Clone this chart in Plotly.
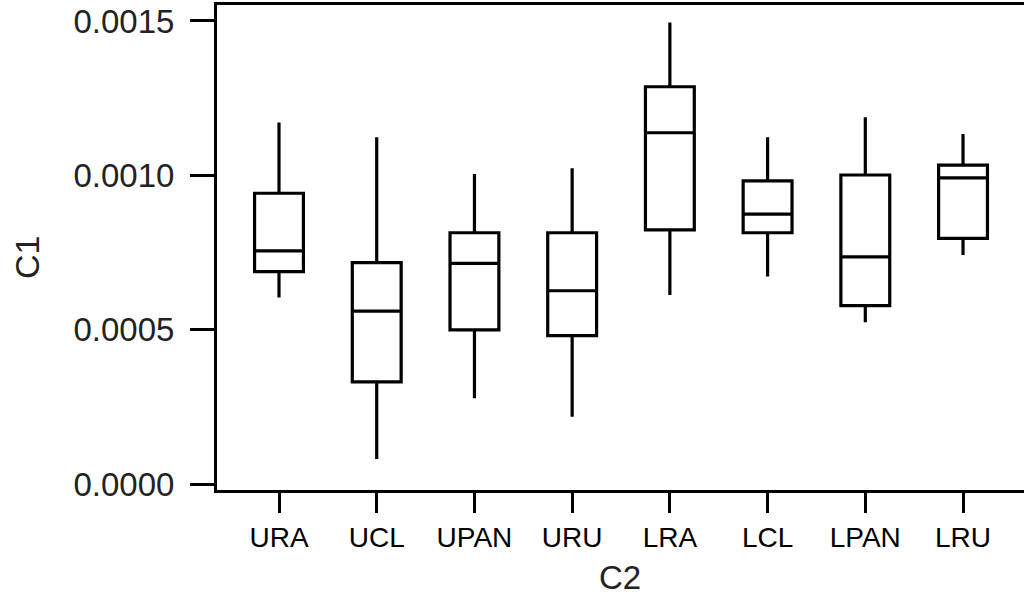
import plotly.graph_objects as go

categories = ["URA", "UCL", "UPAN", "URU", "LRA", "LCL", "LPAN", "LRU"]
upper_whisker = [0.001171, 0.001123, 0.001004, 0.001023, 0.001495, 0.001123, 0.001188, 0.001134]
q3_values     = [0.000942, 0.000717, 0.000814, 0.000814, 0.001287, 0.000982, 0.001001, 0.001033]
median_values = [0.000755, 0.000560, 0.000715, 0.000626, 0.001138, 0.000874, 0.000736, 0.000992]
q1_values     = [0.000688, 0.000331, 0.000499, 0.000481, 0.000823, 0.000814, 0.000578, 0.000796]
lower_whisker = [0.000604, 0.000081, 0.000278, 0.000218, 0.000612, 0.000672, 0.000524, 0.000742]
y_tick_values = [0.0, 0.0005, 0.0010, 0.0015]
y_tick_text = ["0.0000", "0.0005", "0.0010", "0.0015"]

FONT = "Liberation Sans, Arial, sans-serif"

fig = go.Figure()
fig.add_trace(go.Box(
    x=categories,
    q1=q1_values,
    median=median_values,
    q3=q3_values,
    lowerfence=lower_whisker,
    upperfence=upper_whisker,
    width=0.5,
    whiskerwidth=0,
    fillcolor="white",
    line=dict(color="black", width=3.2),
    boxpoints=False,
    showlegend=False,
    hoverinfo="skip",
))

fig.update_layout(
    width=1024,
    height=596,
    margin=dict(l=217, r=0, t=5, b=106),
    paper_bgcolor="white",
    plot_bgcolor="white",
    showlegend=False,
    xaxis=dict(
        type="category",
        categoryorder="array",
        categoryarray=categories,
        range=[-0.6345, 7.624],
        showline=True,
        linecolor="black",
        linewidth=3,
        mirror=True,
        ticks="outside",
        ticklen=20,
        tickwidth=3,
        tickcolor="black",
        showgrid=False,
        zeroline=False,
        tickfont=dict(family=FONT, size=28, color="black"),
        ticklabelstandoff=0,
    ),
    yaxis=dict(
        range=[-0.00001944, 0.0015518],
        tickvals=y_tick_values,
        ticktext=y_tick_text,
        showline=True,
        linecolor="black",
        linewidth=3,
        mirror=False,
        ticks="outside",
        ticklen=24,
        tickwidth=3,
        tickcolor="black",
        showgrid=False,
        zeroline=False,
        tickfont=dict(family=FONT, size=33, color="#222222"),
        ticklabelstandoff=9,
    ),
    annotations=[
        dict(text="C1", xref="paper", yref="paper", x=(27 - 217) / 807, y=(490 - 258) / 485,
             showarrow=False, textangle=-90, xanchor="center", yanchor="middle",
             font=dict(family=FONT, size=34, color="#222222")),
        dict(text="C2", xref="paper", yref="paper", x=(620 - 217) / 807, y=(490 - 577) / 485,
             showarrow=False, xanchor="center", yanchor="middle",
             font=dict(family=FONT, size=33, color="#222222")),
    ],
)

fig.write_html("out.html")
